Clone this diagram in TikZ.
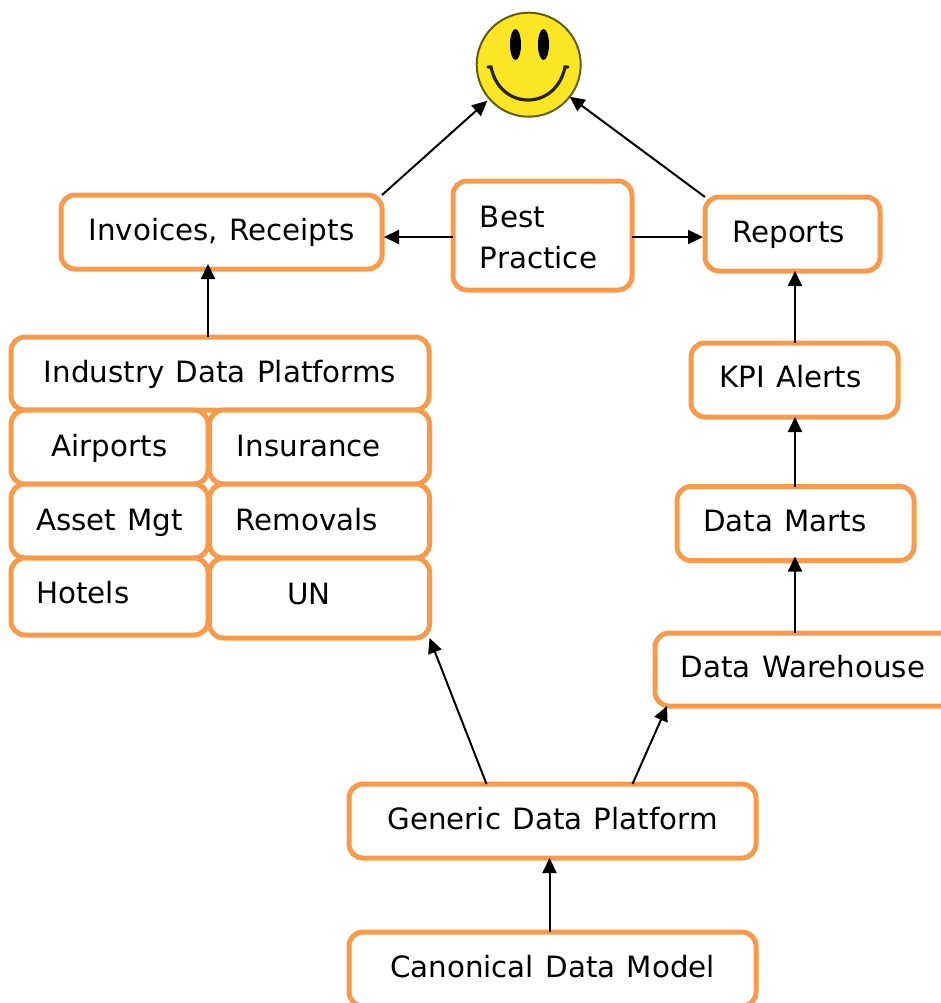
\documentclass[tikz,border=0pt]{standalone}
\usepackage{fontspec}
\setmainfont[WordSpace=1.22]{DejaVu Sans}
\usetikzlibrary{arrows.meta}
\definecolor{boxc}{HTML}{F99A4B}
\definecolor{smileyc}{HTML}{FBE625}
\def\px{0.75pt}
\tikzstyle{orangebox} = [
  draw=boxc,
  line width=5*\px,
  fill=white,
  rounded corners=14*\px,
  outer sep=0pt,
  inner sep=0pt,
  text=black,
  font=\fontsize{22pt}{30.75pt}\selectfont,
  text height=17.5pt,
  text depth=4.5pt,
]
\tikzstyle{cellbox} = [
  orangebox,
  text height=19pt,
]
\tikzstyle{flow} = [
  -{Triangle[length=15*\px,width=14*\px]},
  line width=2*\px,
]

\begin{document}
\begin{tikzpicture}[x=\px,y=-\px]
    \path[use as bounding box,clip] (0,0) rectangle (941,1003);

    % Smiley
    \node[circle,draw=black!60!smileyc,line width=2*\px,fill=smileyc,minimum size=104*\px,
      inner sep=0pt,outer sep=0pt] (smiley) at (528.7,64.7) {};
    \fill (515.5,44.5) ellipse [x radius=5.5,y radius=15.5];
    \fill (543.5,44.5) ellipse [x radius=5.5,y radius=15.5];
    \draw[line width=3.2*\px,line cap=round,draw=black!85!smileyc] (488,67) -- (491,67)
      .. controls (495,87) and (510,100) .. (528,100)
      .. controls (546,100) and (561,87) .. (565,67) -- (568,67);

    % Top row
    \node[orangebox,minimum width=321*\px,minimum height=74*\px] (invoices) at (221.5,232) {Invoices, Receipts};
    \node[orangebox,minimum width=179*\px,minimum height=109*\px,align=left,text height=,text depth=] (best) at (542.5,235.5) {\rule{0pt}{19.5pt}Best\\Practice\hspace*{6pt}};
    \node[orangebox,minimum width=175*\px,minimum height=74*\px] (reports) at (792.5,234) {Reports\hspace*{6pt}};

    % Industry platforms
    \node[orangebox,minimum width=418*\px,minimum height=73*\px] (industry) at (220,373.5) {Industry Data Platforms};
    \node[cellbox,minimum width=197*\px,minimum height=74*\px] (airports) at (109.5,447) {Airports};
    \node[cellbox,minimum width=220*\px,minimum height=74*\px] (insurance) at (319.5,447) {Insurance\hspace*{16pt}};
    \node[cellbox,minimum width=197*\px,minimum height=74*\px] (assetmgt) at (109.5,521) {Asset Mgt};
    \node[cellbox,minimum width=220*\px,minimum height=74*\px] (removals) at (319.5,521) {Removals\hspace*{19pt}};
    \node[cellbox,minimum width=197*\px,minimum height=77*\px,text depth=8pt] (hotels) at (109.5,596.5) {Hotels\hspace*{40pt}};
    \node[cellbox,minimum width=220*\px,minimum height=80*\px,text depth=10pt] (un) at (319.5,598) {UN\hspace*{16pt}};

    % Right column
    \node[orangebox,minimum width=207*\px,minimum height=74*\px,text depth=6pt] (kpi) at (794.5,380) {KPI Alerts\hspace*{6pt}};
    \node[orangebox,minimum width=237*\px,minimum height=74*\px,text depth=6pt] (marts) at (795.5,523.5) {Data Marts\hspace*{16pt}};
    \node[orangebox,minimum width=320*\px,minimum height=73*\px,text depth=6pt] (warehouse) at (815,669.5) {Data Warehouse\hspace*{18pt}};

    % Bottom row
    \node[orangebox,minimum width=407*\px,minimum height=74*\px] (generic) at (552.5,821) {Generic Data Platform};
    \node[orangebox,minimum width=407*\px,minimum height=74*\px] (canonical) at (552.5,969) {Canonical Data Model};

    % Arrows
    \draw[flow,shorten >=3*\px] (invoices.north east) -- (smiley.221);
    \draw[flow] (reports.north west) -- (smiley.-38);
    \draw[flow,shorten >=2*\px] ([yshift=-1.5*\px]best.west) -- ([yshift=-1.5*\px]best.west -| invoices.east);
    \draw[flow,shorten >=2*\px] ([yshift=-1.5*\px]best.east) -- ([yshift=-1.5*\px]best.east -| reports.west);
    \draw[flow,shorten >=-5*\px] (airports.east |- industry.north) -- (airports.east |- invoices.south);
    \draw[flow] (795,1 |- kpi.north) -- (795,1 |- reports.south);
    \draw[flow] (795,1 |- marts.north) -- (795,1 |- kpi.south);
    \draw[flow,shorten >=-4*\px] (795,1 |- warehouse.north) -- (795,1 |- marts.south);
    \draw[flow] ([xshift=-66*\px]generic.north) -- (un.south east);
    \draw[flow] ([xshift=80*\px]generic.north) -- ([xshift=12*\px]warehouse.south west);
    \draw[flow] ([xshift=-3*\px]canonical.north) -- ([xshift=-3*\px]generic.south);
\end{tikzpicture}
\end{document}
